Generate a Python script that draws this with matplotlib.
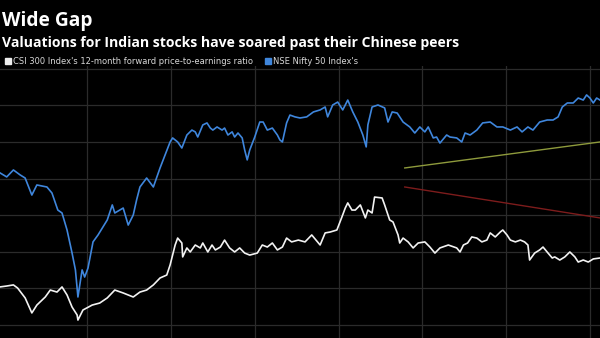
import matplotlib
matplotlib.use("Agg")
import matplotlib.pyplot as plt
from matplotlib.patches import Rectangle

# NSE Nifty 50 forward P/E (blue)
nifty_x = [2010.96, 2011.04, 2011.12, 2011.20, 2011.26, 2011.34, 2011.40, 2011.52, 2011.58,
           2011.65, 2011.70, 2011.76, 2011.82, 2011.86, 2011.89, 2011.94, 2011.97, 2012.01,
           2012.07, 2012.13, 2012.24, 2012.30, 2012.33, 2012.43, 2012.49, 2012.55, 2012.59,
           2012.63, 2012.71, 2012.79, 2012.87, 2012.99, 2013.02, 2013.08, 2013.13, 2013.19,
           2013.25, 2013.29, 2013.32, 2013.38, 2013.43, 2013.47, 2013.50, 2013.55, 2013.61,
           2013.64, 2013.68, 2013.73, 2013.76, 2013.80, 2013.85, 2013.88, 2013.91, 2013.94,
           2014.00, 2014.06, 2014.10, 2014.15, 2014.21, 2014.27, 2014.30, 2014.33, 2014.38,
           2014.42, 2014.48, 2014.54, 2014.62, 2014.70, 2014.78, 2014.84, 2014.87, 2014.93,
           2014.99, 2015.05, 2015.11, 2015.17, 2015.23, 2015.29, 2015.33, 2015.35, 2015.40,
           2015.47, 2015.55, 2015.59, 2015.64, 2015.70, 2015.77, 2015.85, 2015.91, 2015.97,
           2016.03, 2016.07, 2016.13, 2016.17, 2016.21, 2016.29, 2016.33, 2016.41, 2016.47,
           2016.51, 2016.57, 2016.65, 2016.72, 2016.81, 2016.89, 2016.96, 2017.05, 2017.13,
           2017.19, 2017.26, 2017.32, 2017.40, 2017.49, 2017.56, 2017.62, 2017.67, 2017.73,
           2017.80, 2017.86, 2017.92, 2017.96, 2018.00, 2018.04, 2018.08, 2018.12]
nifty_pe = [16.31, 16.09, 16.47, 16.20, 16.03, 15.10, 15.65, 15.54, 15.21,
            14.28, 14.12, 13.19, 11.93, 11.01, 9.53, 11.01, 10.62, 11.11,
            12.54, 12.92, 13.74, 14.56, 14.12, 14.39, 13.46, 14.01, 14.83,
            15.54, 16.03, 15.54, 16.58, 18.00, 18.22, 18.00, 17.67, 18.38,
            18.65, 18.55, 18.27, 18.93, 19.04, 18.76, 18.65, 18.82, 18.65,
            18.76, 18.38, 18.55, 18.27, 18.49, 18.22, 17.56, 17.02, 17.56,
            18.27, 19.09, 19.09, 18.65, 18.76, 18.38, 18.11, 18.00, 19.04,
            19.47, 19.37, 19.31, 19.37, 19.64, 19.75, 19.91, 19.37, 20.02,
            20.18, 19.75, 20.29, 19.64, 19.09, 18.38, 17.73, 18.93, 19.91,
            20.02, 19.86, 19.09, 19.64, 19.58, 19.09, 18.82, 18.49, 18.82,
            18.55, 18.82, 18.22, 18.27, 17.94, 18.38, 18.27, 18.22, 18.00,
            18.49, 18.38, 18.65, 19.04, 19.09, 18.82, 18.82, 18.65, 18.82,
            18.55, 18.82, 18.65, 19.09, 19.20, 19.20, 19.37, 19.91, 20.13,
            20.13, 20.40, 20.29, 20.57, 20.40, 20.13, 20.40, 20.29]

# CSI 300 forward P/E (white)
csi_x = [2010.96, 2011.04, 2011.12, 2011.17, 2011.26, 2011.34, 2011.40, 2011.50, 2011.56,
         2011.64, 2011.70, 2011.76, 2011.82, 2011.88, 2011.89, 2011.95, 2012.06, 2012.15,
         2012.24, 2012.33, 2012.43, 2012.55, 2012.63, 2012.71, 2012.79, 2012.87, 2012.95,
         2012.99, 2013.05, 2013.08, 2013.13, 2013.14, 2013.19, 2013.23, 2013.29, 2013.35,
         2013.38, 2013.44, 2013.49, 2013.53, 2013.59, 2013.64, 2013.70, 2013.76, 2013.82,
         2013.88, 2013.94, 2014.03, 2014.09, 2014.15, 2014.21, 2014.27, 2014.33, 2014.38,
         2014.44, 2014.52, 2014.60, 2014.68, 2014.78, 2014.84, 2014.90, 2014.98, 2015.04,
         2015.08, 2015.11, 2015.16, 2015.20, 2015.26, 2015.32, 2015.35, 2015.40, 2015.43,
         2015.52, 2015.55, 2015.61, 2015.65, 2015.71, 2015.73, 2015.77, 2015.83, 2015.89,
         2015.95, 2016.03, 2016.09, 2016.15, 2016.21, 2016.31, 2016.41, 2016.45, 2016.49,
         2016.54, 2016.59, 2016.65, 2016.71, 2016.77, 2016.81, 2016.87, 2016.93, 2016.96,
         2017.01, 2017.05, 2017.11, 2017.17, 2017.22, 2017.26, 2017.28, 2017.34, 2017.40,
         2017.44, 2017.50, 2017.55, 2017.58, 2017.64, 2017.70, 2017.76, 2017.82, 2017.86,
         2017.92, 2017.98, 2018.04, 2018.12]
csi_pe = [10.08, 10.13, 10.19, 10.02, 9.48, 8.66, 9.09, 9.53, 9.91,
          9.80, 10.08, 9.64, 8.98, 8.55, 8.27, 8.82, 9.09, 9.20,
          9.48, 9.91, 9.75, 9.53, 9.80, 9.91, 10.19, 10.57, 10.73,
          11.28, 12.37, 12.75, 12.48, 11.72, 12.21, 11.99, 12.37, 12.21,
          12.48, 11.99, 12.37, 12.10, 12.26, 12.64, 12.21, 11.99, 12.21,
          11.93, 11.82, 11.93, 12.37, 12.26, 12.48, 12.10, 12.26, 12.75,
          12.54, 12.64, 12.54, 12.92, 12.37, 13.03, 13.08, 13.19, 13.90,
          14.39, 14.67, 14.28, 14.28, 14.56, 13.85, 14.28, 14.12, 14.99,
          14.94, 14.56, 13.74, 13.63, 12.92, 12.48, 12.75, 12.54, 12.21,
          12.48, 12.54, 12.26, 11.93, 12.21, 12.37, 12.21, 11.99, 12.37,
          12.48, 12.81, 12.75, 12.54, 12.64, 13.03, 12.81, 13.08, 13.19,
          12.92, 12.64, 12.54, 12.64, 12.54, 12.37, 11.55, 11.93, 12.10,
          12.26, 11.93, 11.66, 11.72, 11.55, 11.72, 11.99, 11.72, 11.44,
          11.55, 11.44, 11.61, 11.66]

# trend lines drawn over the recent period
trend_x = [2015.79, 2018.12]
up_trend = [16.58, 18.00]
down_trend = [15.54, 13.85]

grid_years = [2012, 2013, 2014, 2015, 2016, 2017, 2018]
grid_levels = [8, 10, 12, 14, 16, 18, 20, 22]

fig = plt.figure(figsize=(6, 3.38), dpi=100, facecolor="black")
ax = fig.add_axes([0, 0, 1, 1 - 66 / 338])
ax.set_facecolor("black")

for gx in grid_years:
    ax.axvline(gx, color="#2b2b2b", lw=0.9, zorder=0)
for gy in grid_levels:
    ax.axhline(gy, color="#2b2b2b", lw=0.9, zorder=0)

ax.plot(trend_x, up_trend, color="#8e9a3c", lw=1.0)
ax.plot(trend_x, down_trend, color="#7d1c1c", lw=1.0)
ax.plot(nifty_x, nifty_pe, color="#3f86dc", lw=1.2)
ax.plot(csi_x, csi_pe, color="#f2f2f2", lw=1.2)

ax.set_xlim(2010.96, 2018.12)
ax.set_ylim(7.29, 22.15)
ax.set_xticks([])
ax.set_yticks([])
for s in ax.spines.values():
    s.set_visible(False)

# titles
fig.text(0.004, 1 - 26 / 338, "Wide Gap", color="white", fontsize=13.8,
         fontweight="bold", family="Open Sans")
fig.text(0.004, 1 - 47 / 338, "Valuations for Indian stocks have soared past their Chinese peers",
         color="white", fontsize=10.1, fontweight="bold", family="Open Sans")

# legend
fig.patches.append(Rectangle((5 / 600, 1 - 64 / 338), 6 / 600, 6 / 338,
                             transform=fig.transFigure, color="#eeeeee"))
fig.text(13 / 600, 1 - 64 / 338, "CSI 300 Index's 12-month forward price-to-earnings ratio",
         color="#d8d8d8", fontsize=6.0, family="Liberation Sans Narrow")
fig.patches.append(Rectangle((265 / 600, 1 - 64 / 338), 6 / 600, 6 / 338,
                             transform=fig.transFigure, color="#3f86dc"))
fig.text(273 / 600, 1 - 64 / 338, "NSE Nifty 50 Index's",
         color="#d8d8d8", fontsize=6.0, family="Liberation Sans Narrow")

fig.savefig("out.png", dpi=100, facecolor="black")
